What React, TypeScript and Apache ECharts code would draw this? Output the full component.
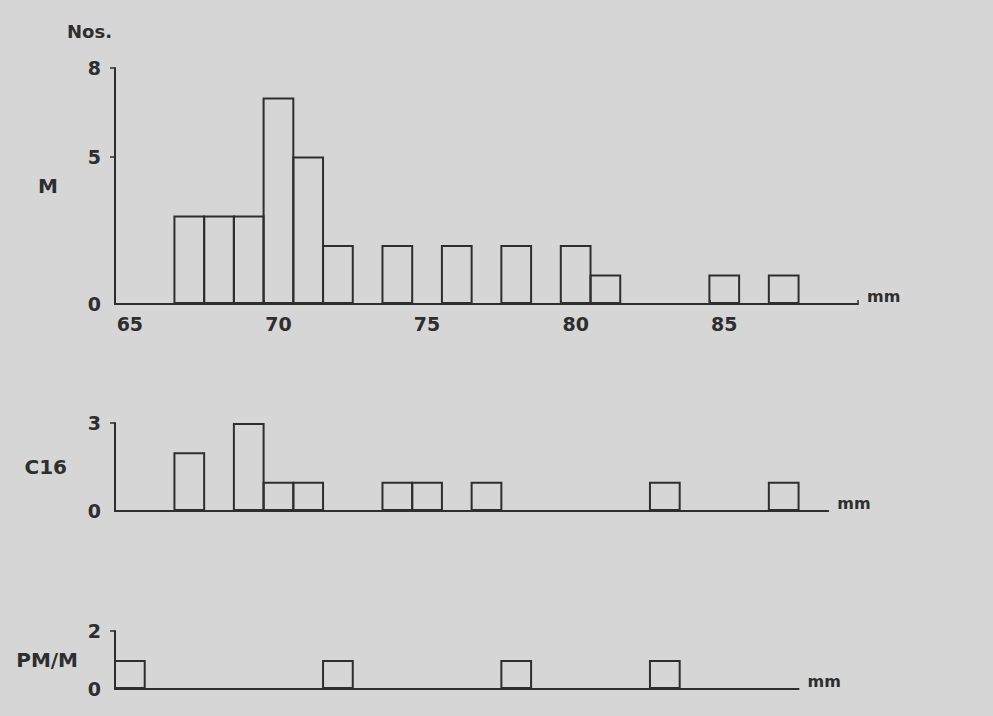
import React, { useEffect, useRef } from "react";
import * as echarts from "echarts";

// Length classes (mm), one bar per 1 mm class
const binsM = ["65","66","67","68","69","70","71","72","73","74","75","76","77","78","79","80","81","82","83","84","85","86","87","88","89"];
const countsM = [0,0,3,3,3,7,5,2,0,2,0,2,0,2,0,2,1,0,0,0,1,0,1,0,0];

const binsC16 = ["65","66","67","68","69","70","71","72","73","74","75","76","77","78","79","80","81","82","83","84","85","86","87","88"];
const countsC16 = [0,0,2,0,3,1,1,0,0,1,1,0,1,0,0,0,0,0,1,0,0,0,1,0];

const binsPM = ["65","66","67","68","69","70","71","72","73","74","75","76","77","78","79","80","81","82","83","84","85","86","87"];
const countsPM = [1,0,0,0,0,0,0,1,0,0,0,0,0,1,0,0,0,0,1,0,0,0,0];

const xTickLabels = ["65","70","75","80","85"];
const yTicksM = [0,5,8];
const yTicksC16 = [0,3];
const yTicksPM = [0,2];

const panelNames = ["M","C16","PM/M"];

const INK = "#2e2e2e";
const BG = "#d6d6d6";
const FONT = "DejaVu Sans";
const BIN_W = 29.72;
const LINE_W = 2;

export default function App() {
  const ref = useRef<HTMLDivElement>(null);
  useEffect(() => {
    if (!ref.current) return;
    const chart = echarts.init(ref.current, null, { renderer: "svg" });

    const panels = [
      { bins: binsM, counts: countsM, ticks: yTicksM, top: 68, height: 236, name: panelNames[0], nameGap: 57, showX: true },
      { bins: binsC16, counts: countsC16, ticks: yTicksC16, top: 423, height: 88, name: panelNames[1], nameGap: 48, showX: false },
      { bins: binsPM, counts: countsPM, ticks: yTicksPM, top: 631, height: 58, name: panelNames[2], nameGap: 37, showX: false },
    ];

    const grids = panels.map((p) => ({
      left: 115,
      top: p.top,
      width: p.bins.length * BIN_W,
      height: p.height,
      containLabel: false,
    }));

    const xAxes = panels.map((p, i) => ({
      type: "category",
      gridIndex: i,
      data: p.bins,
      boundaryGap: true,
      name: "mm",
      nameLocation: "end",
      nameGap: 9,
      nameTextStyle: { color: INK, fontFamily: FONT, fontWeight: "bold", fontSize: 16, verticalAlign: "bottom" },
      axisLine: { show: true, lineStyle: { color: INK, width: LINE_W } },
      axisTick: { show: p.showX, inside: true, length: 4, lineStyle: { color: INK, width: 1.5 } },
      axisLabel: {
        show: p.showX,
        interval: (idx: number) => xTickLabels.includes(p.bins[idx]),
        color: INK,
        fontFamily: FONT,
        fontWeight: "bold",
        fontSize: 19,
        margin: 10,
      },
      splitLine: { show: false },
    }));

    const yAxes = panels.map((p, i) => ({
      type: "value",
      gridIndex: i,
      min: 0,
      max: p.ticks[p.ticks.length - 1],
      name: p.name,
      nameLocation: "middle",
      nameRotate: 0,
      nameGap: p.nameGap,
      nameTextStyle: { color: INK, fontFamily: FONT, fontWeight: "bold", fontSize: 20 },
      axisLine: { show: true, lineStyle: { color: INK, width: LINE_W } },
      axisTick: { show: true, length: 5, customValues: p.ticks.filter((t) => t !== 0), lineStyle: { color: INK, width: 1.5 } },
      axisLabel: { customValues: p.ticks, color: INK, fontFamily: FONT, fontWeight: "bold", fontSize: 19, margin: 14 },
      splitLine: { show: false },
    }));

    // ECharts insets a bar's border by half its width; widen the bar so that
    // adjacent bars share one outline on the class boundary.
    const series = panels.map((p, i) => ({
      type: "bar",
      xAxisIndex: i,
      yAxisIndex: i,
      data: p.counts.map((c) => (c === 0 ? null : c)),
      barWidth: BIN_W + LINE_W,
      barGap: "-100%",
      itemStyle: { color: "rgba(0,0,0,0)", borderColor: INK, borderWidth: LINE_W },
      emphasis: { disabled: true },
    }));

    chart.setOption({
      animation: false,
      backgroundColor: BG,
      title: {
        text: "Nos.",
        left: 67,
        top: 22,
        padding: 0,
        textStyle: { color: INK, fontFamily: FONT, fontWeight: "bold", fontSize: 18 },
      },
      grid: grids,
      xAxis: xAxes,
      yAxis: yAxes,
      series,
    } as any);

    return () => chart.dispose();
  }, []);

  return (
    <div
      ref={ref}
      style={{ position: "absolute", left: 0, top: 0, width: 993, height: 716, background: BG }}
    />
  );
}
